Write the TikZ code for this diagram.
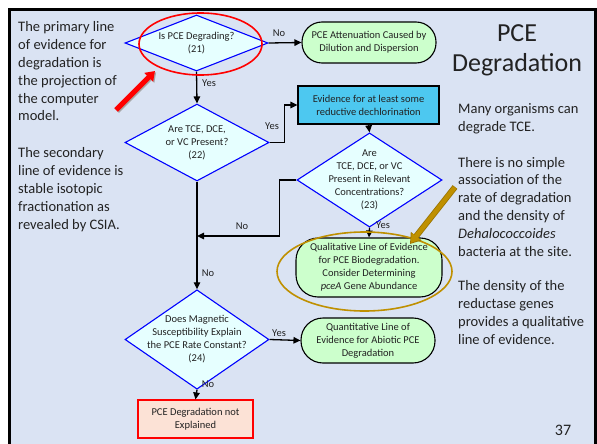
\documentclass[tikz,border=0pt]{standalone}
\usepackage{fontspec}
\setmainfont{Carlito}
\usetikzlibrary{shapes.geometric,arrows.meta,calc}

\definecolor{slidebg}{HTML}{DAE3F3}
\definecolor{txt}{HTML}{222222}
\definecolor{qfill}{HTML}{E6FFFF}
\definecolor{qline}{HTML}{0000FF}
\definecolor{tfill}{HTML}{CCFFCC}
\definecolor{evfill}{HTML}{4DC8F0}
\definecolor{nxfill}{HTML}{FCE2D6}
\definecolor{goldline}{HTML}{BF9000}

\tikzset{
  flowtext/.style={font=\fontsize{10.5}{13}\selectfont, text=txt, align=center},
  decision/.style={flowtext, diamond, draw=qline, fill=qfill, line width=1.1pt, inner sep=-12pt},
  terminal/.style={flowtext, rectangle, rounded corners=20pt, draw=black, fill=tfill, line width=1.1pt, inner sep=0pt},
  evbox/.style={flowtext, rectangle, draw=black, fill=evfill, line width=1.1pt, inner sep=0pt},
  endbox/.style={flowtext, rectangle, draw=red, fill=nxfill, line width=1.1pt, inner sep=0pt},
  conn/.style={line width=1.3pt, draw=black, -{Triangle[length=7pt,width=6.5pt]}},
  edgelabel/.style={font=\fontsize{10.5}{13}\selectfont, text=txt, inner sep=0pt},
  % anchored on the baseline of the last line
  bodytext/.style={font=\fontsize{14.5}{17.8}\selectfont, text=txt, align=left, inner sep=0pt, anchor=base west},
  ring/.style={ellipse, line width=1.6pt, fill=none, inner sep=0pt},
}

\begin{document}
\begin{tikzpicture}[x=1pt,y=-1pt]
\useasboundingbox (0,0) rectangle (597,444);
\fill[white] (0,0) rectangle (597,444);
% slide panel
\draw[line width=2.6pt, fill=slidebg] (9.3,9.3) rectangle (595.5,470);

% flowchart shapes
\node[decision, minimum width=143pt, minimum height=56pt] (d21) at (196.5,43) {Is PCE Degrading?\\(21)};
\node[terminal, minimum width=134pt, minimum height=41pt] (atten) at (369,42.5) {PCE Attenuation Caused by\\Dilution and Dispersion};
\node[decision, minimum width=144pt, minimum height=77pt] (d22) at (197,142.5) {Are TCE, DCE,\\or VC Present?\\(22)};
\node[evbox, minimum width=141pt, minimum height=38pt] (evid) at (368.5,105) {Evidence for at least some\\reductive dechlorination};
\node[decision, minimum width=145pt, minimum height=76pt] (d23) at (369.5,180) {Are\\TCE, DCE, or VC\\Present in Relevant\\Concentrations?\\(23)};
\node[terminal, minimum width=146pt, minimum height=59pt, rounded corners=22pt] (qual) at (369,267.5) {Qualitative Line of Evidence\\for PCE Biodegradation.\\Consider Determining\\\textit{pceA} Gene Abundance};
\node[decision, minimum width=144pt, minimum height=77pt] (d24) at (197,339.5) {Does Magnetic\\Susceptibility Explain\\the PCE Rate Constant?\\(24)};
\node[terminal, minimum width=134pt, minimum height=45pt, rounded corners=22pt] (quant) at (368,340.5) {Quantitative Line of\\Evidence for Abiotic PCE\\Degradation};
\node[endbox, minimum width=115pt, minimum height=38pt] (nexp) at (195.5,419) {PCE Degradation not\\Explained};

% junction where the "No" branch of (23) meets the main line
\coordinate (join) at (197,236);

% connectors
\draw[conn] (d21.east) -- (atten.west);
\draw[conn] (d21.south) -- (d22.north);
\draw[conn] (d22.east) -- ++(15,0) |- (evid.west);
\draw[conn] (evid.south) -- (d23.north);
\draw[conn] (d23.west) -- ++(-17,0) |- (join);
\draw[conn] (d23.south) -- (qual.north);
\draw[conn] (d22.south) -- (d24.north);
\draw[conn] (d24.east) -- (quant.west);
\draw[conn] (d24.south) -- (nexp.north);

% branch labels
\node[edgelabel] (l21no) at (279,33) {No};
\node[edgelabel] (l21yes) at (209,83) {Yes};
\node[edgelabel] (l22yes) at (272,126) {Yes};
\node[edgelabel] (l23no) at (242,226) {No};
\node[edgelabel] (l23yes) at (383,225) {Yes};
\node[edgelabel] (l22no) at (208,273) {No};
\node[edgelabel] (l24yes) at (279,333) {Yes};
\node[edgelabel] (l24no) at (208,384) {No};

% highlight rings
\node[ring, draw=red, minimum width=123pt, minimum height=62pt] (ring21) at (200.5,44) {};
\node[ring, draw=goldline, minimum width=175pt, minimum height=79pt] (ringq) at (364.5,271.5) {};

% pointer arrows
\coordinate (ra0) at (116,110);
\coordinate (ra1) at (155,71);
\draw[line width=5pt, black!35, -{Triangle[length=9pt,width=12pt]}] ($(ra0)+(1.2,1.2)$) -- ($(ra1)+(1.2,1.2)$);
\draw[line width=5pt, red, -{Triangle[length=9pt,width=12pt]}] (ra0) -- (ra1);
\coordinate (ga0) at (455,187);
\coordinate (ga1) at (410,244);
\draw[line width=6pt, goldline!80!black, -{Triangle[length=10pt,width=13pt]}] (ga0) -- (ga1);
\draw[line width=4.4pt, goldline, -{Triangle[length=8.5pt,width=11pt]}] ($(ga0)!0.6pt!(ga1)$) -- ($(ga1)!1.4pt!(ga0)$);

% title (anchored on the baseline of its second line)
\node[font=\fontsize{26}{30}\selectfont, text=txt, align=center, inner sep=0pt, anchor=base] (title) at (517,72) {PCE\\Degradation};

% side notes
\node[bodytext] (noteA) at (18,121) {The primary line\\of evidence for\\degradation is\\the projection of\\the computer\\model.};
\node[bodytext] (noteB) at (18,229) {The secondary\\line of evidence is\\stable isotopic\\fractionation as\\revealed by CSIA.};
\node[bodytext] (noteC) at (458,131) {Many organisms can\\degrade TCE.};
\node[bodytext] (noteD) at (458,256) {There is no simple\\association of the\\rate of degradation\\and the density of\\\textit{Dehalococcoides}\\bacteria at the site.};
\node[bodytext] (noteE) at (458,344) {The density of the\\reductase genes\\provides a qualitative\\line of evidence.};

% page number
\node[font=\fontsize{16}{18}\selectfont, text=txt, inner sep=0pt, anchor=base] (pageno) at (563,435) {37};
\end{tikzpicture}
\end{document}
